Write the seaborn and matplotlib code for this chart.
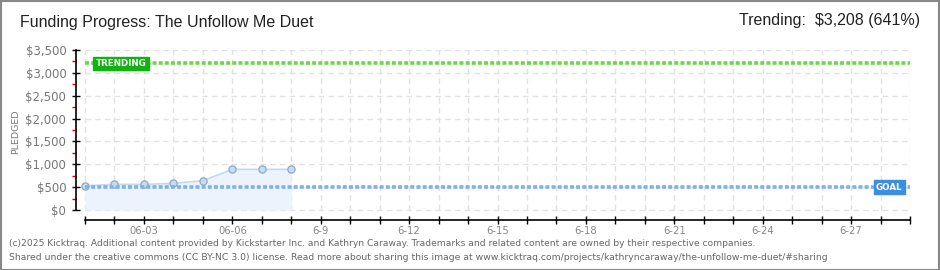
import matplotlib
matplotlib.use("Agg")
import matplotlib.pyplot as plt
import seaborn as sns
import pandas as pd
from matplotlib.patches import Rectangle

# ---- data ----
dates = ["2025-06-01", "2025-06-02", "2025-06-03", "2025-06-04",
         "2025-06-05", "2025-06-06", "2025-06-07", "2025-06-08"]
pledged = [530, 560, 560, 583, 641, 889, 889, 889]
goal = 500
trending = 3208
trend_pct = 641
xtick_labels = ["06-03", "06-06", "6-9", "6-12", "6-15", "6-18", "6-21", "6-24", "6-27"]
xtick_days = [3, 6, 9, 12, 15, 18, 21, 24, 27]
yticks = [0, 500, 1000, 1500, 2000, 2500, 3000, 3500]
ytick_labels = ["$0", "$500", "$1,000", "$1,500", "$2,000", "$2,500", "$3,000", "$3,500"]
first_day, last_day = 1, 29

df = pd.DataFrame({"date": pd.to_datetime(dates), "pledged": pledged})
df["day"] = df["date"].dt.day

sns.set_theme(style="white")
plt.rcParams["font.family"] = ["DejaVu Sans"]
NARROW = ["Liberation Sans Narrow", "Liberation Sans", "DejaVu Sans"]

W, H = 940, 270
fig = plt.figure(figsize=(W / 100, H / 100), dpi=100)
fig.patch.set_facecolor("white")
fig.add_artist(Rectangle((0.5 / W, 0.5 / H), 1 - 1.5 / W, 1 - 1.5 / H, transform=fig.transFigure,
                         fill=False, edgecolor="#888888", linewidth=1.5))

left_px, right_px, top_px, bot_px = 76, 910, 50, 220
ax = fig.add_axes([left_px / W, 1 - bot_px / H, (right_px - left_px) / W, (bot_px - top_px) / H])
ax.set_facecolor("none")

px_per_day = 29.46
x0 = first_day - (85 - left_px) / px_per_day
ax.set_xlim(x0, last_day)
ax.set_ylim(-219, 3500)

# grid
for d in range(first_day, last_day + 1):
    ax.plot([d, d], [0, 3500], color="#e2e2e2", lw=1, ls=(0, (4, 3)), zorder=0)
for yv in yticks:
    ax.plot([first_day, last_day], [yv, yv], color="#e2e2e2", lw=1, ls=(0, (4, 3)), zorder=0)

# fill under series
ax.fill_between(df["day"], 0, df["pledged"], color="#ecf3fc", zorder=1, lw=0)
sns.lineplot(data=df, x="day", y="pledged", ax=ax, color="#c2d9f2", lw=1.2, zorder=2,
             marker="o", markersize=5.2, markerfacecolor="#c5dcf5",
             markeredgecolor="#8fa9c8", markeredgewidth=0.9)

# goal & trending lines
ax.hlines(goal, first_day, last_day, color="#7fb0e6", lw=2.6, linestyles=[(0, (1.1, 0.6))], zorder=3)
ax.hlines(trending, first_day, last_day, color="#6fd64a", lw=2.6, linestyles=[(0, (1.1, 0.6))], zorder=3)

ax.text(1.36, trending, "TRENDING", color="white", fontsize=6.3, fontweight="bold",
        va="center", ha="left", zorder=5,
        bbox=dict(boxstyle="square,pad=0.25", fc="#11b211", ec="#11b211"))
ax.text(27.85, goal, "GOAL", color="white", fontsize=6.3, fontweight="bold",
        va="center", ha="left", zorder=5,
        bbox=dict(boxstyle="square,pad=0.25", fc="#3d8ee0", ec="#3d8ee0"))

# spines
for s in ["top", "right"]:
    ax.spines[s].set_visible(False)
ax.spines["left"].set_bounds(0, 3500)
ax.spines["bottom"].set_bounds(first_day, last_day)
for s in ["left", "bottom"]:
    ax.spines[s].set_color("black")
    ax.spines[s].set_linewidth(1.2)

ax.set_yticks(yticks)
ax.set_yticklabels(ytick_labels)
ax.set_yticks([250, 750, 1250, 1750, 2250, 2750, 3250], minor=True)
ax.tick_params(axis="y", which="major", direction="inout", length=6, width=1, color="black",
               labelsize=8.5, labelcolor="#777777", pad=4, left=True)
ax.tick_params(axis="y", which="minor", direction="out", length=3, width=1, color="#dd0000", left=True)

ax.set_xticks(list(range(first_day, last_day + 1)))
ax.set_xticklabels(["" for _ in range(first_day, last_day + 1)])
ax.tick_params(axis="x", which="major", direction="inout", length=6, width=1, color="black", bottom=True)
for d, lab in zip(xtick_days, xtick_labels):
    ax.text(d, -0.036, lab, transform=ax.get_xaxis_transform(), ha="center", va="top",
            fontsize=7.2, color="#888888")

ax.set_xlabel("")
ax.set_ylabel("PLEDGED", fontsize=6.8, color="#777777")
ax.yaxis.set_label_coords(-(76 - 20) / (right_px - left_px), 0.52)

# titles
fig.text(20 / W, 1 - 22 / H, "Funding Progress: The Unfollow Me Duet", fontsize=11.5,
         family=NARROW, color="#222222", ha="left", va="center")
fig.text(920 / W, 1 - 21 / H, f"Trending:  ${trending:,} ({trend_pct}%)", fontsize=11.5,
         family=NARROW, color="#222222", ha="right", va="center")

# footer
fig.text(9 / W, 1 - 243 / H,
         "(c)2025 Kicktraq. Additional content provided by Kickstarter Inc. and Kathryn Caraway. "
         "Trademarks and related content are owned by their respective companies.",
         fontsize=6.6, color="#666666", ha="left", va="center")
fig.text(9 / W, 1 - 257 / H,
         "Shared under the creative commons (CC BY-NC 3.0) license. Read more about sharing this image at "
         "www.kicktraq.com/projects/kathryncaraway/the-unfollow-me-duet/#sharing",
         fontsize=6.7, color="#666666", ha="left", va="center")

fig.savefig("out.png", dpi=100)
